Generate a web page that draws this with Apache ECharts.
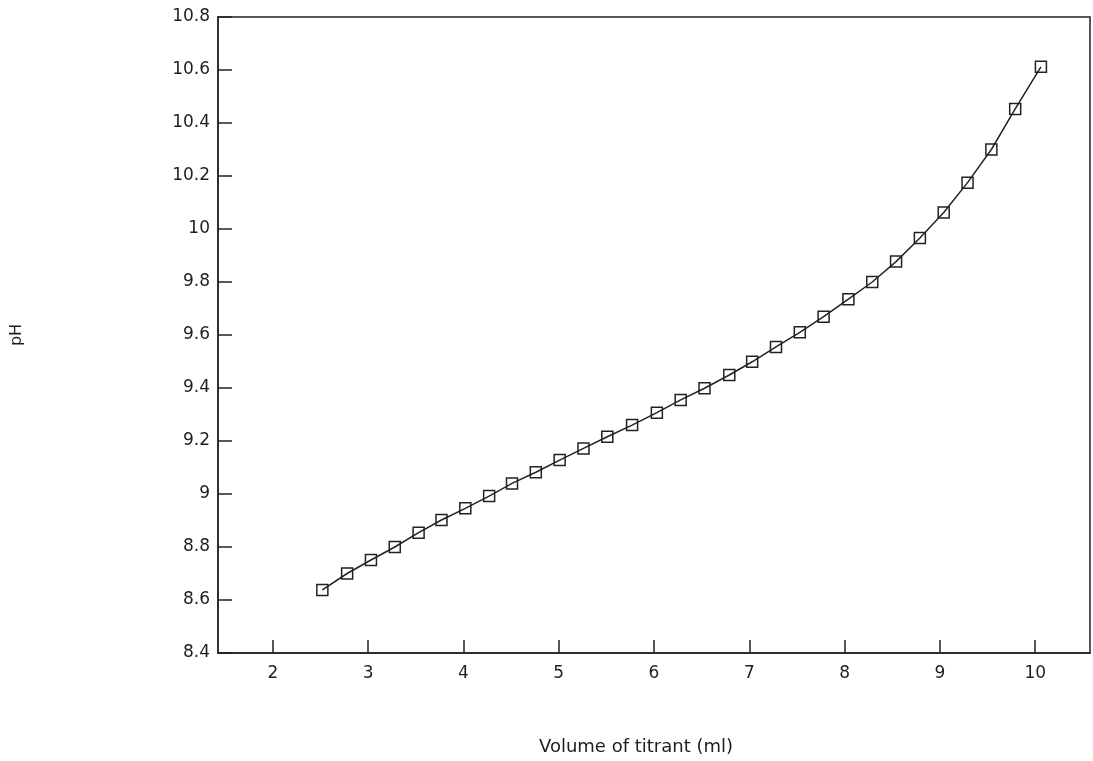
<!DOCTYPE html>
<html>
<head>
<meta charset="utf-8">
<script src="https://cdn.jsdelivr.net/npm/echarts@6/dist/echarts.min.js"></script>
<style>
html,body{margin:0;padding:0;background:#fff;}
#chart{width:1093px;height:761px;}
</style>
</head>
<body>
<div id="chart"></div>
<script>
// Volume of titrant (ml)
const volume = [2.52, 2.78, 3.03, 3.28, 3.53, 3.77, 4.02, 4.27, 4.51, 4.76, 5.01, 5.26, 5.51, 5.77, 6.03, 6.28, 6.53, 6.79, 7.03, 7.28, 7.53, 7.78, 8.04, 8.29, 8.54, 8.79, 9.04, 9.29, 9.54, 9.79, 10.06];
// pH
const pH = [8.638, 8.70, 8.751, 8.80, 8.854, 8.902, 8.946, 8.992, 9.04, 9.082, 9.128, 9.172, 9.216, 9.26, 9.307, 9.355, 9.399, 9.449, 9.499, 9.555, 9.61, 9.669, 9.735, 9.80, 9.877, 9.966, 10.062, 10.175, 10.30, 10.453, 10.612];
const xTicks = [2, 3, 4, 5, 6, 7, 8, 9, 10];
const yTicks = [8.4, 8.6, 8.8, 9, 9.2, 9.4, 9.6, 9.8, 10, 10.2, 10.4, 10.6, 10.8];
const xTitle = 'Volume of titrant (ml)';
const yTitle = 'pH';

const chart = echarts.init(document.getElementById('chart'), null, {renderer: 'canvas'});
const font = 'DejaVu Sans';
const txtColor = '#1e1e1e';
chart.setOption({
  animation: false,
  backgroundColor: '#fff',
  grid: {left: 218, right: 3, top: 17, bottom: 106, show: true, borderColor: '#222', borderWidth: 1.5, backgroundColor: 'transparent'},
  xAxis: {
    type: 'value', min: 1.425, max: 10.575,
    name: xTitle, nameLocation: 'middle', nameGap: 85,
    nameTextStyle: {fontFamily: font, fontSize: 18, color: txtColor, padding: [0, 36, 0, 0]},
    axisLine: {show: true, onZero: false, lineStyle: {color: '#222', width: 1.5}},
    axisTick: {show: true, inside: true, length: 13, customValues: xTicks, lineStyle: {color: '#222', width: 1.5}},
    axisLabel: {customValues: xTicks, margin: 12, fontFamily: font, fontSize: 17, color: txtColor, formatter: v => String(v)},
    splitLine: {show: false}
  },
  yAxis: {
    type: 'value', min: 8.4, max: 10.8,
    name: yTitle, nameLocation: 'middle', nameGap: 193, nameRotate: 90,
    nameTextStyle: {fontFamily: font, fontSize: 16, color: txtColor},
    axisLine: {show: true, onZero: false, lineStyle: {color: '#222', width: 1.5}},
    axisTick: {show: true, inside: true, length: 14, customValues: yTicks, lineStyle: {color: '#222', width: 1.5}},
    axisLabel: {customValues: yTicks, margin: 8, fontFamily: font, fontSize: 17, color: txtColor,
      formatter: v => String(Math.round(v * 10) / 10)},
    splitLine: {show: false}
  },
  series: [{
    type: 'line',
    data: volume.map((x, i) => [x, pH[i]]),
    symbol: 'rect', symbolSize: 11,
    itemStyle: {color: 'rgba(255,255,255,0)', borderColor: '#222', borderWidth: 1.5},
    lineStyle: {color: '#222', width: 1.5},
    showAllSymbol: true,
    z: 3
  }]
});
</script>
</body>
</html>
